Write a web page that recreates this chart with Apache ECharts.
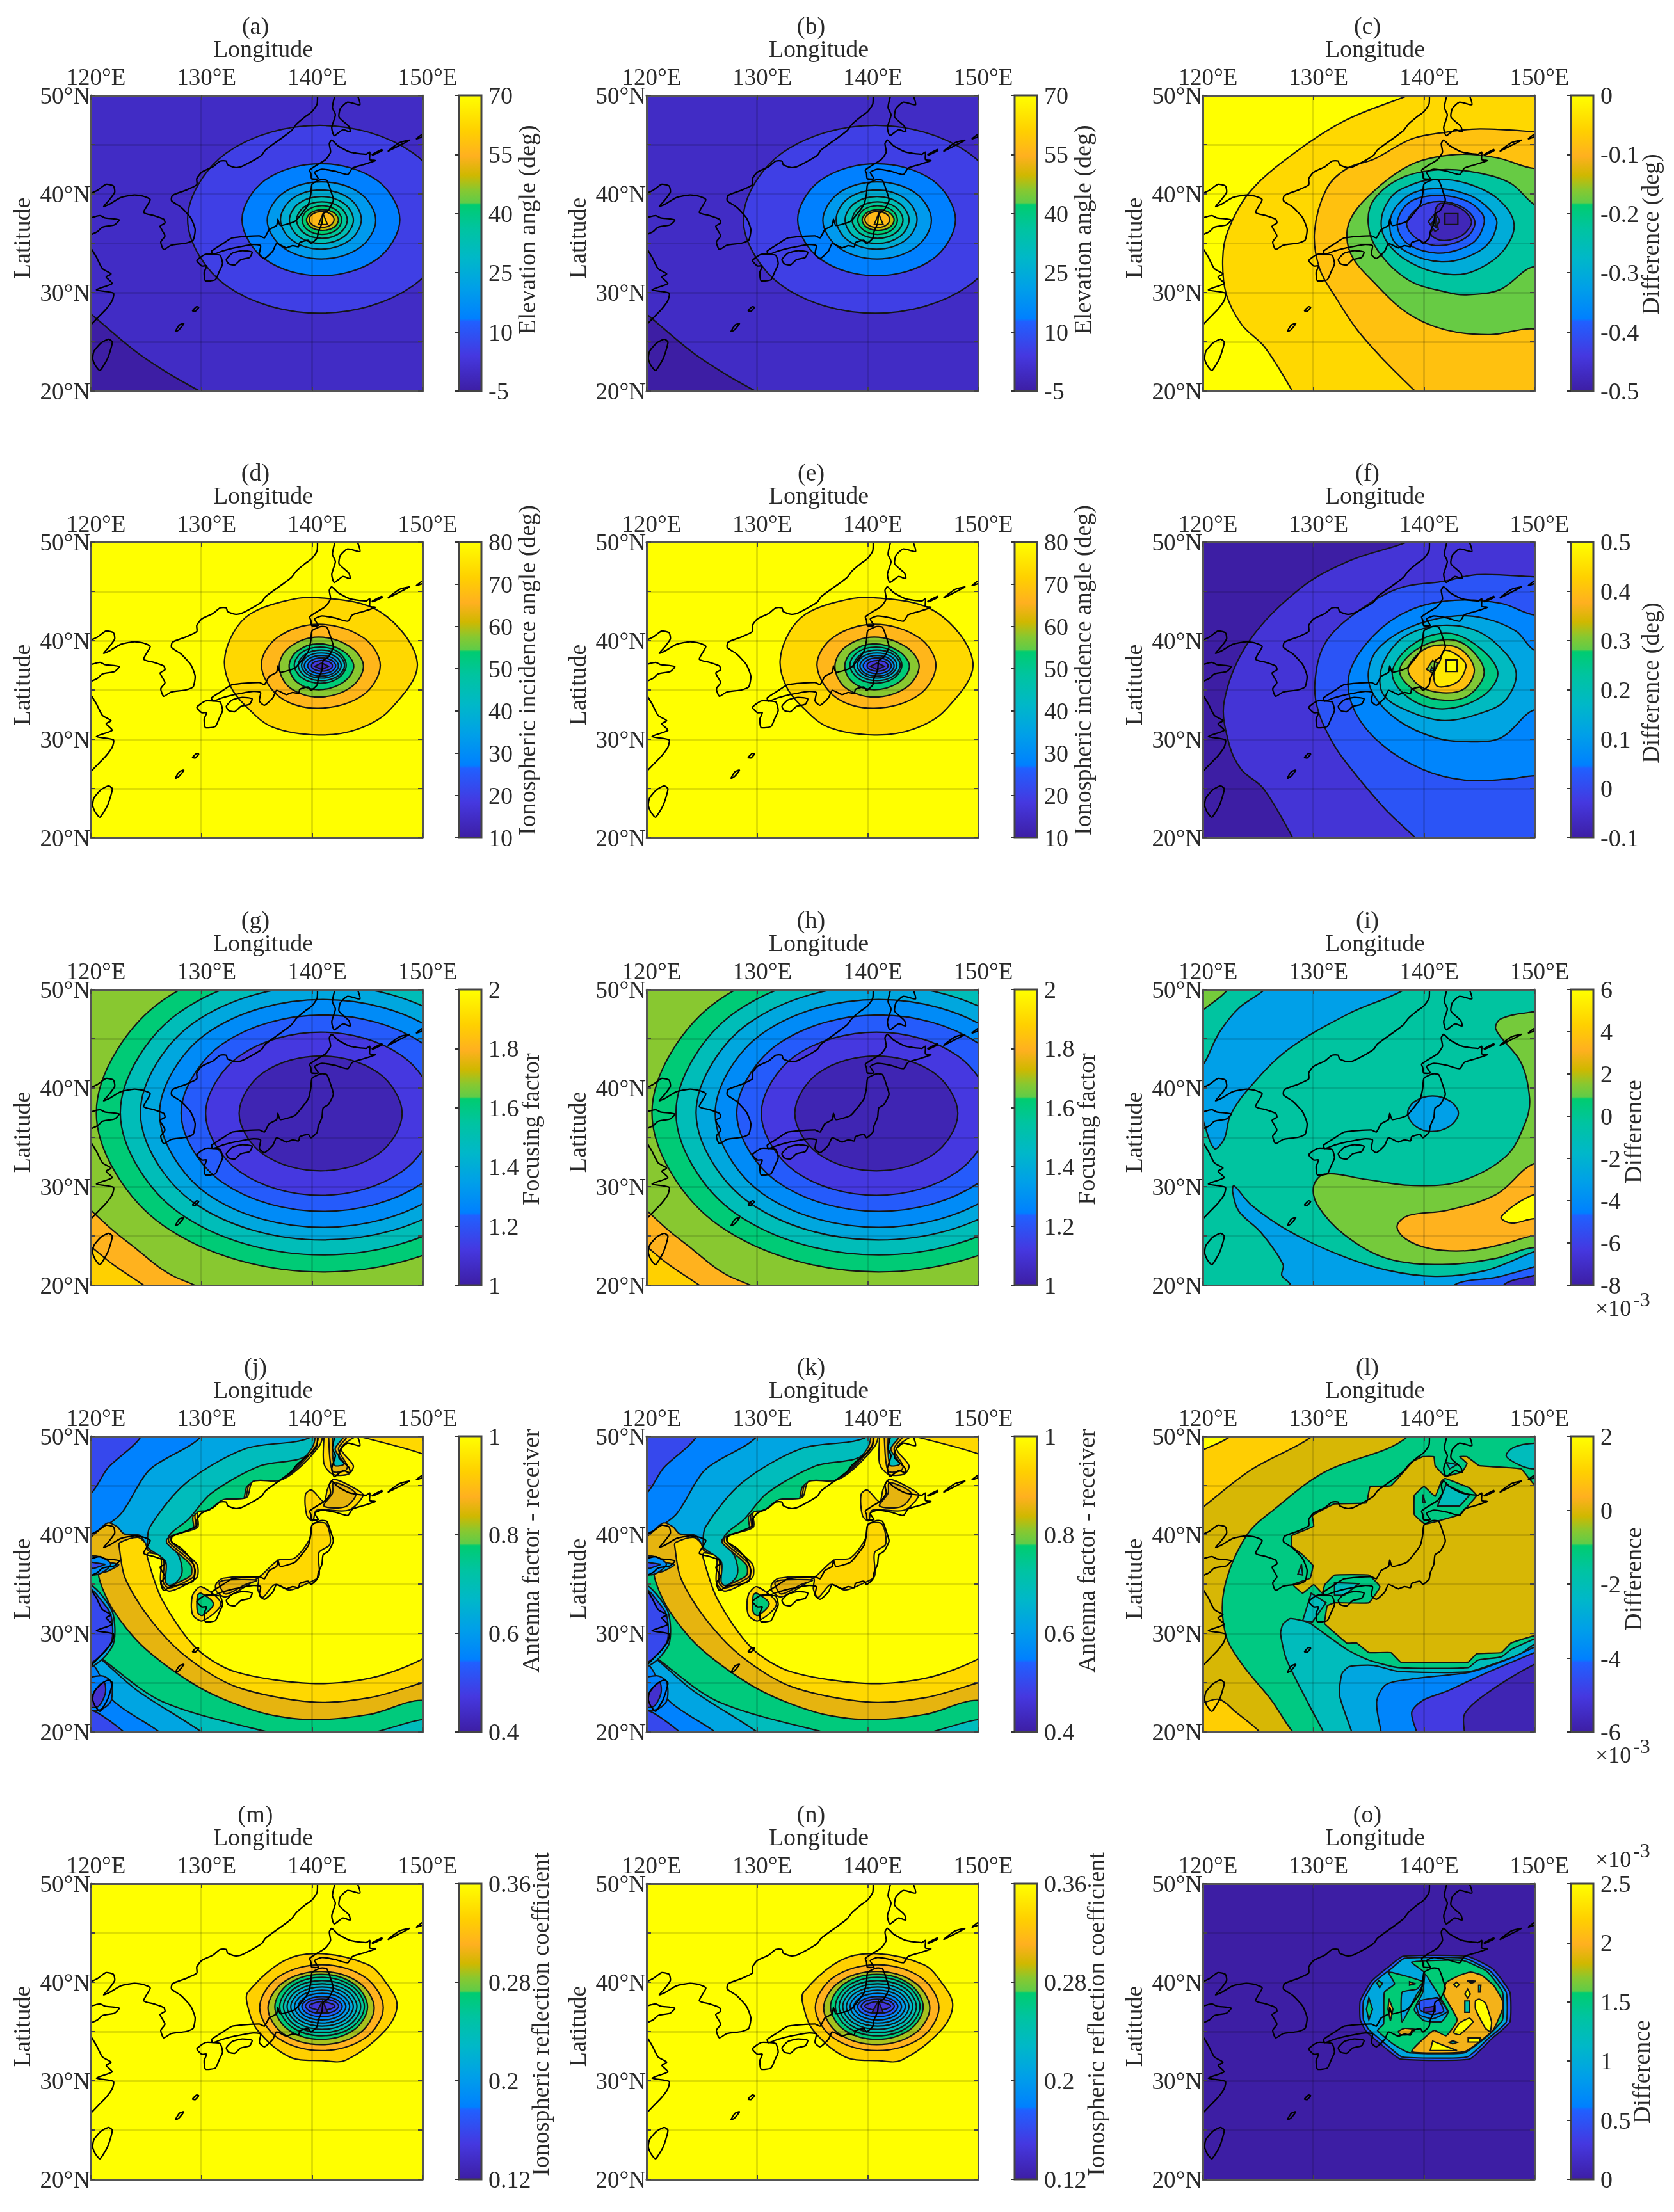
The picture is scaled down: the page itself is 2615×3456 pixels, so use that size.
<!DOCTYPE html>
<html>
<head>
<meta charset="utf-8">
<title>Ionospheric reflection maps</title>
<script src="https://cdn.jsdelivr.net/npm/echarts@6/dist/echarts.min.js"></script>
<style>html,body{margin:0;background:#fff}#chart{width:2615px;height:3456px;filter:blur(0.6px)}</style>
</head>
<body>
<div id="chart"></div>
<script>
// colour bar ticks
var elevationTicks = [-5, 10, 25, 40, 55, 70];
var elevationDiffTicks = [-0.5, -0.4, -0.3, -0.2, -0.1, 0];
var incidenceTicks = [10, 20, 30, 40, 50, 60, 70, 80];
var incidenceDiffTicks = [-0.1, 0, 0.1, 0.2, 0.3, 0.4, 0.5];
var focusingTicks = [1, 1.2, 1.4, 1.6, 1.8, 2];
var focusingDiffTicks = [-8, -6, -4, -2, 0, 2, 4, 6];
var antennaTicks = [0.4, 0.6, 0.8, 1];
var antennaDiffTicks = [-6, -4, -2, 0, 2];
var reflectionTicks = [0.12, 0.2, 0.28, 0.36];
var reflectionDiffTicks = [0, 0.5, 1, 1.5, 2, 2.5];

// coastlines, lon/lat
var continentCoast = [[140.5,50],[140.46,49.1],[140,48.34],[139.35,47.8],[138.57,47.05],[138.13,46.4],[137.24,45.65],[135.8,44.47],[135.46,43.93],[134.8,43.46],[133.58,42.75],[133.02,42.68],[132.36,42.96],[132.25,43.33],[131.69,43.33],[131.03,42.75],[130.03,42.21],[129.58,41.56],[129.58,40.92],[128.59,40.38],[127.37,39.84],[127.3,39.3],[128.14,38.66],[129.03,37.58],[129.43,36.4],[129.25,35.32],[128.59,35],[127.26,34.79],[126.59,34.36],[126.32,35.11],[126.7,35.75],[126.26,36.72],[126.7,37.05],[126.59,37.43],[125.7,37.8],[124.77,38.12],[125.37,39.41],[124.81,39.74],[123.93,39.89],[122.71,39.63],[121.71,38.98],[121.15,38.72],[121.6,39.3],[122.15,40.17],[122.04,40.81],[121.38,40.98],[120.6,40.38],[120,40.06]];
var shandongCoast = [[120,37.58],[120.82,37.8],[121.26,37.58],[122.55,37.37],[122.15,36.87],[121.04,36.62],[120.6,36.18],[120,35.86]];
var chinaCoast = [[120,34.5],[120.49,33.6],[121.04,32.42],[121.82,31.88],[121.38,31.56],[121.93,30.91],[120.49,30.27],[122.04,29.94],[121.93,29.19],[121.38,28.33],[120.82,27.68],[120,26.72]];
var sakhalinCoast = [[142.08,50],[141.85,48.77],[142.12,48.02],[141.79,46.73],[142.01,45.91],[142.79,46.51],[143.45,46.3],[143.34,46.84],[142.45,47.8],[142.57,48.67],[143.23,49.31],[144.34,49.05],[144.12,50]];
var taiwanCoast = [[121.6,25.27],[121.93,24.99],[121.82,24.35],[121.49,23.27],[120.82,22.09],[120.38,22.63],[120.16,23.27],[120.27,24.03],[120.93,24.89]];
var hokkaidoCoast = [[141.79,45.47],[141.57,45.1],[141.68,44.24],[141.23,43.48],[140.46,42.94],[139.79,42.41],[139.9,42.08],[139.97,41.54],[140.57,41.54],[140.24,42.19],[140.9,42.51],[142.12,42.3],[143.23,41.97],[143.67,42.62],[144.56,42.94],[145.72,43.38],[145.23,43.48],[145.23,44.24],[144.89,44.02],[143.45,44.24],[142.34,44.89]];
var honshuCoast = [[140.01,41],[140.79,41.43],[141.34,41.37],[141.79,40.03],[141.94,39.38],[141.79,38.95],[141.46,38.31],[141.01,37.98],[140.9,37.01],[140.57,36.15],[140.46,35.5],[139.9,34.96],[139.68,35.29],[138.9,35.07],[138.79,34.64],[138.24,34.75],[137.68,34.53],[136.8,34.96],[136.46,34.21],[135.69,33.45],[135.24,33.88],[135.35,34.75],[134.58,34.85],[133.02,34.53],[131.91,34.21],[131.03,33.88],[130.92,34.2],[131.91,34.93],[132.8,35.54],[135.24,35.76],[135.69,35.54],[136.13,36.37],[136.8,36.8],[136.91,37.44],[137.13,36.8],[138.46,37.23],[139.13,38.09],[139.68,38.95],[139.9,40.03]];
var kyushuCoast = [[129.59,33.24],[130.36,33.88],[131.03,33.88],[131.69,33.78],[131.91,32.91],[131.58,32.05],[131.25,31.29],[130.36,31.19],[130.25,32.05],[130.47,32.7],[130.03,32.7]];
var shikokuCoast = [[132.25,33.34],[132.8,33.99],[133.69,34.25],[134.58,34.1],[134.36,33.56],[133.58,33.34],[133.02,32.8],[132.47,32.91]];
var amamiCoast = [[129.2,28.15],[129.55,28.55],[129.75,28.5],[129.45,28.1]];
var okinawaCoast = [[127.65,26.05],[128,26.7],[128.4,26.85],[127.95,26.2]];
var kurilA = [[145.45,44],[146.3,44.5],[146.35,44.4],[145.5,43.95]];
var kurilB = [[146.9,44.35],[147.9,45.2],[148.8,45.45],[147.8,44.85]];
var kurilC = [[149.45,45.6],[150,46.05],[150,45.8]];
var openCoasts = [continentCoast, shandongCoast, chinaCoast, sakhalinCoast];
var closedCoasts = [taiwanCoast, hokkaidoCoast, honshuCoast, kyushuCoast, shikokuCoast, amamiCoast, okinawaCoast, kurilA, kurilB, kurilC];

// filled contours: [level, outline, optional curve tension], outermost first
var elevationBase = -5;
var elevationBands = [
  [0, [[117,30.5],[120.07,27.75],[124.13,23.95],[127.06,21.77],[129.83,20],[133,18],[160,18],[160,60],[117,60]]],
  [5.5, [[140.7,46.95],[149.15,44.15],[152.65,37.42],[149.15,30.69],[140.7,27.9],[132.25,30.69],[128.75,37.42],[132.25,44.15]]],
  [13.4, [[140.8,43.06],[145.86,41.4],[147.95,37.38],[145.86,33.36],[140.8,31.7],[135.76,33.36],[133.67,37.38],[135.76,41.4]]],
  [19.7, [[140.86,41.23],[144.33,40.09],[145.77,37.32],[144.33,34.55],[140.86,33.4],[137.39,34.55],[135.95,37.32],[137.39,40.09]]],
  [25.7, [[140.81,40.4],[143.4,39.52],[144.47,37.4],[143.4,35.28],[140.81,34.4],[138.22,35.28],[137.15,37.4],[138.22,39.52]]],
  [32.5, [[140.85,39.73],[142.9,39.03],[143.75,37.35],[142.9,35.67],[140.85,34.97],[138.8,35.67],[137.96,37.35],[138.8,39.03]]],
  [37, [[140.9,39.2],[142.53,38.66],[143.2,37.35],[142.53,36.04],[140.9,35.5],[139.27,36.04],[138.6,37.35],[139.27,38.66]]],
  [42.2, [[140.9,38.8],[142.17,38.38],[142.7,37.35],[142.17,36.32],[140.9,35.9],[139.63,36.32],[139.1,37.35],[139.63,38.38]]],
  [49, [[140.95,38.4],[141.98,38.09],[142.4,37.35],[141.98,36.61],[140.95,36.3],[139.92,36.61],[139.5,37.35],[139.92,38.09]]],
  [56.5, [[140.88,38.2],[141.68,37.97],[142,37.4],[141.68,36.83],[140.88,36.6],[140.08,36.83],[139.75,37.4],[140.08,37.97]]],
  [64, [[141,38],[141.4,36.9],[140.6,36.9]]]
];
var elevationDiffBase = 0;
var elevationDiffBands = [
  [-0.05, [[142,51.5],[138.6,50],[132.7,47.35],[127.5,43.5],[124.1,40],[122.25,36.2],[121.8,33.45],[122.1,29.9],[123.5,26.76],[125.6,24.45],[128.1,20],[129,18],[160,18],[160,60],[142,60]]],
  [-0.08, [[152,46],[150,46.3],[145.07,46.6],[142,46.26],[138.9,45.58],[135.5,43.54],[133.04,42.58],[131.2,40.54],[130.1,36.17],[130.58,32.36],[132.1,29.36],[133.97,26.2],[136.43,23.08],[139.2,20],[141,18],[160,18],[160,46]]],
  [-0.178, [[150,42.58],[146.6,43.67],[142.9,44],[138.9,43],[135.2,40],[133.2,37],[133.35,34],[135.5,31],[138.6,27.85],[142,26.2],[146,25.73],[150,26.3],[153,25],[160,25],[160,43],[153,43]]],
  [-0.225, [[150,38.9],[147.84,41.08],[144.76,42.17],[141.37,42.45],[137.98,41.63],[135.5,39.45],[134.96,37],[135.82,34.26],[138.6,31.26],[142,30.04],[143.84,29.77],[146.9,30.3],[150,32.63],[152,31],[160,31],[160,39],[152,38]]],
  [-0.3, [[141.06,41.49],[143.84,41.08],[146.6,39.58],[148.15,37],[147.2,34.26],[144.9,32.36],[142.6,31.81],[139.5,32.63],[137.05,34.54],[136.13,37],[137.05,39.7],[138.9,40.95]]],
  [-0.36, [[141.06,40.54],[144.15,39.85],[146,38.36],[146.6,37],[145.7,34.8],[143.53,33.45],[141.4,33.12],[138.9,33.86],[137.2,35.36],[137.05,37.8],[138.6,39.85]]],
  [-0.385, [[141.4,39.85],[143.84,39.3],[145.2,38.1],[145.44,37],[144.6,35.2],[142.9,34.26],[141.06,34],[138.9,34.67],[137.82,35.9],[137.67,37.54],[138.9,39.3]]],
  [-0.43, [[141.4,39.23],[143.53,38.63],[144.6,37.26],[144.14,35.9],[142.6,34.95],[140.75,34.8],[139.2,35.6],[138.44,37],[139.5,38.63]]],
  [-0.48, [[141.5,39.04],[143.37,38.5],[144.3,37.26],[143.84,36.17],[142.9,35.5],[141.5,35.3],[140.6,36],[141.4,37.2],[141,38.2]]],
  [-0.5, [[141.9,38],[143.07,38],[143.07,36.9],[141.9,36.9]]],
  [-0.42, [[140.4,37.2],[141,38],[141.3,36.4],[141,36.2]]],
  [-0.3, [[140.7,37],[141,37.5],[141.1,36.6]]]
];
var incidenceBase = 80;
var incidenceBands = [
  [73, [[140.4,44.38],[146.18,42.92],[149.53,37.73],[147.05,32.98],[144.18,31.04],[140.6,30.43],[136.4,31.25],[133.97,33.41],[132.64,35.36],[132.08,37.95],[132.87,40.76],[134.4,42.7],[137.08,43.89]]],
  [66.7, [[140.6,41.66],[144.63,40.32],[146.18,37.5],[144.63,34.49],[140.6,33.15],[137.08,34.28],[135.42,37.5],[136.86,40.32]]],
  [57.6, [[140.6,40.37],[143.5,39.35],[144.66,37.41],[143.5,35.25],[140.6,34.28],[137.97,35.25],[137.04,37.41],[137.97,39.35]]],
  [53.4, [[140.6,39.68],[142.85,38.92],[143.78,37.41],[142.85,35.79],[140.6,35.03],[138.64,35.79],[137.93,37.41],[138.64,38.92]]],
  [47.8, [[140.75,39.35],[142.41,38.82],[143.1,37.52],[142.41,36.22],[140.75,35.68],[139.09,36.22],[138.4,37.52],[139.09,38.82]]],
  [40.8, [[140.85,39.05],[142.33,38.6],[142.95,37.5],[142.33,36.4],[140.85,35.95],[139.37,36.4],[138.75,37.5],[139.37,38.6]]],
  [35.2, [[140.85,38.75],[142.12,38.4],[142.65,37.48],[142.12,36.58],[140.85,36.2],[139.58,36.58],[139.05,37.48],[139.58,38.4]]],
  [29.6, [[140.85,38.5],[141.95,38.19],[142.4,37.45],[141.95,36.71],[140.85,36.4],[139.75,36.71],[139.3,37.45],[139.75,38.19]]],
  [25.4, [[140.88,38.25],[141.78,38.02],[142.15,37.45],[141.78,36.88],[140.88,36.65],[139.98,36.88],[139.6,37.45],[139.98,38.02]]],
  [18.4, [[140.9,38],[141.57,37.84],[141.85,37.45],[141.57,37.06],[140.9,36.9],[140.23,37.06],[139.95,37.45],[140.23,37.84]]],
  [12.1, [[140.88,37.75],[141.5,37.4],[140.88,37.05],[140.25,37.4]]]
];
var incidenceDiffBase = -0.1;
var incidenceDiffBands = [
  [-0.04, [[142,52],[138.46,50],[133.25,48.1],[128.8,45.29],[124.15,39.89],[121.93,33.84],[122.37,29.52],[123.48,26.93],[125.48,24.99],[128.14,20],[129,18],[160,18],[160,52]]],
  [0.02, [[152,46.3],[149.9,46.48],[144.78,46.7],[141.9,46.05],[137.68,45.29],[133.69,42.7],[131.03,39.68],[130.14,35.79],[130.47,32.76],[131.92,29.31],[133.69,26.61],[136.57,22.83],[139.24,20],[141,18],[160,18],[160,46]]],
  [0.056, [[150,42.6],[147,43.78],[142.8,44.1],[138.8,43.13],[135.46,40.54],[133.25,36.65],[133.69,32.98],[136.13,29.52],[139.9,26.93],[143.67,25.85],[147.67,25.96],[150,26.29],[152,26],[160,26],[160,43],[152,43]]],
  [0.122, [[150,39.03],[148.33,40.97],[145.45,42.27],[142.56,42.48],[138.8,41.4],[135.9,39.24],[134.98,36.87],[135.46,34.49],[137.68,31.9],[141,30.17],[143.9,29.74],[147,30.17],[150,32.98],[152,32],[160,32],[160,39],[152,39]]],
  [0.182, [[141.68,41.56],[144.34,41.19],[146.56,39.68],[148.33,36.87],[147.45,34.06],[145.45,32.76],[141.9,31.9],[138.8,32.76],[136.35,34.49],[136.13,37.08],[137.46,39.68],[139.24,40.97]]],
  [0.26, [[141.9,40.76],[144.56,39.68],[146.67,36.87],[145.45,34.49],[141.9,33.09],[138.8,34.06],[137.13,36.65],[138.8,39.46]]],
  [0.302, [[141.9,40.11],[143.9,39.46],[145.45,36.87],[144.12,34.49],[141.9,33.95],[139.46,34.71],[137.8,36.87],[139.24,39.03]]],
  [0.404, [[141.68,39.57],[143.45,39.03],[144.56,37.08],[143.67,35.14],[141.68,34.71],[139.68,35.36],[138.57,37.08],[139.9,39.03]]],
  [0.464, [[141.9,39.03],[143.45,38.16],[143.8,37.3],[143,35.79],[141.23,35.36],[140.9,36.65],[141.46,37.95]]],
  [0.5, [[142.01,38.05],[143,38.05],[143,36.87],[142.01,36.87]]],
  [0.3, [[140.79,38],[140.24,37.08],[140.9,36.65],[141.23,37.73]]],
  [0.18, [[140.7,37.3],[140.6,36.95],[140.95,36.95]]]
];
var focusingBase = 1.68;
var focusingBands = [
  [1.8, [[118,29.6],[120,27.6],[122,25.55],[124.2,23.6],[126.1,21.88],[127.5,20.9],[129.4,20],[131,19],[118,15]]],
  [1.88, [[118,25.8],[120,23.93],[122,22.1],[124.77,20],[126,19],[118,15]]],
  [1.62, [[141,53.6],[155.5,48.9],[161.5,37.5],[155.5,26.1],[141,21.34],[126.5,26.1],[120.49,37.5],[126.5,48.9]]],
  [1.49, [[141,51.93],[153.97,47.7],[159.34,37.5],[153.97,27.3],[141,23.07],[128.03,27.3],[122.66,37.5],[128.03,47.7]]],
  [1.38, [[141,50.42],[152.68,46.64],[157.52,37.5],[152.68,28.36],[141,24.58],[129.32,28.36],[124.48,37.5],[129.32,46.64]]],
  [1.28, [[141,48.98],[151.46,45.59],[155.79,37.42],[151.46,29.25],[141,25.87],[130.54,29.25],[126.21,37.42],[130.54,45.59]]],
  [1.22, [[141,47.41],[150.08,44.49],[153.84,37.45],[150.08,30.41],[141,27.49],[131.92,30.41],[128.16,37.45],[131.92,44.49]]],
  [1.12, [[140.8,45.68],[148.17,43.25],[151.22,37.4],[148.17,31.55],[140.8,29.11],[133.43,31.55],[130.38,37.4],[133.43,43.25]]],
  [1.03, [[140.79,43.26],[146,41.55],[148.16,37.43],[146,33.31],[140.79,31.6],[135.57,33.31],[133.41,37.43],[135.57,41.55]]]
];
var focusingDiffBase = -0.3;
var focusingDiffBands = [
  [1.24, [[122.26,50],[120,47.9],[118,46],[118,52],[123,52]]],
  [-3.1, [[125.59,50],[123.26,48.12],[121.49,45.64],[120.38,43.05],[119,40],[120,36.8],[121.04,33.87],[121.93,34.84],[122.48,37.21],[124.04,39.8],[127.7,43.9],[133.25,47.58],[138.24,50],[140,52],[127,52]]],
  [-3.1, [[140.79,39.2],[142.45,38.62],[143.12,37.43],[142.34,36.13],[140.68,35.6],[139.24,36.13],[138.53,37.43],[139.13,38.62]]],
  [1.24, [[150,47.75],[147,47.04],[146.51,45.96],[148.78,42.6],[149.56,38.94],[149.2,36.57],[147.45,33.1],[143.23,30.52],[138.8,30.13],[134.8,30.73],[131.03,31.27],[130.03,30.09],[130.36,28.14],[132.8,25.12],[136.57,22.74],[141.68,22.1],[146.56,22.74],[150,23.82],[153,23],[153,48]]],
  [3.2, [[150,32.35],[146.56,29.22],[142.12,27.6],[138.57,27.06],[137.57,25.98],[138.35,24.69],[140.57,23.71],[143.9,23.5],[147.45,24.25],[150,25],[153,24.5],[153,32]]],
  [6, [[150,29.22],[147,26.95],[147.9,26.3],[150,26.74],[152,26.4],[152,29]]],
  [-3.1, [[122.82,30.09],[124.37,28.14],[127.7,25.55],[132.14,23.17],[136.57,21.55],[141,20.9],[145.45,21.45],[150,23.4],[153,24.5],[153,18],[128,18],[127.92,20.04],[127.14,21],[127.26,22.1],[125.26,25.34],[123.26,27.5],[122.7,29.44]]],
  [-4.8, [[142.8,20.05],[146.56,20.8],[150,21.88],[153,23],[153,18],[142,18]]],
  [-7.3, [[147.2,20],[150,21],[153,22],[153,18],[147,18]]]
];
var antennaBase = 0.5;
var antennaBands = [
  [0.55, [[124.55,50],[121.55,46.8],[120,44.2],[117,42],[117,24],[120.67,21.9],[123,20],[126,17],[160,17],[160,55],[126,55]]],
  [0.622, [[130,50],[125.3,46.6],[122.66,42.06],[120,40],[117,38],[117,27],[120,27],[122,23.2],[126.2,20],[128,18],[160,18],[160,55],[132,55]]],
  [0.688, [[139.7,49.8],[134,48.75],[128.65,45.3],[125.32,40.77],[125.1,38.83],[125,37],[123,35],[120,33],[118,30],[120.9,27.4],[124.2,24.2],[130,20],[132,18],[160,18],[160,52],[141,52]]],
  [0.766, [[141,50.5],[139.3,47.9],[135.3,47],[130.87,44.2],[128.87,41.63],[127,39.7],[128,37.75],[128.2,35.94],[127.1,34.65],[124,33],[122,34],[120.5,37],[118,37],[118,30],[120.9,27.5],[126.43,23.1],[136,20],[140.9,19.1],[145.74,20],[150,21.25],[160,22],[160,52],[142,52]]],
  [0.856, [[140.3,52],[140.3,50],[140,48.8],[138.2,46.4],[136.7,45.1],[134.2,45],[133.7,43.4],[131.6,43.2],[130.3,42.1],[129.25,41.9],[129.25,40.3],[126.9,39.6],[126.9,39.1],[129,37],[129.1,36],[128.7,35.6],[127.1,34.85],[126.75,35.25],[126.75,37.3],[125.2,38.65],[124.4,39.95],[123,40.1],[122.4,40.8],[121.5,41.2],[120,39.8],[118,39],[118,37.2],[120,37.3],[122.5,37],[121.5,36.3],[120.67,36],[122,32.4],[124.88,28.48],[130,24.4],[135.3,22],[140,21.25],[145.3,21.8],[150,23.2],[160,21],[160,55],[142,55]]],
  [0.94, [[140.6,51],[140.6,50],[140.3,48.9],[138.4,46.5],[136.9,45.3],[134.4,45.2],[133.9,43.6],[131.8,43.4],[130.5,42.3],[129.45,42.1],[129.45,40.55],[127.1,39.75],[127.1,39.2],[129.25,37.05],[129.35,35.9],[128.9,35.45],[127.1,34.6],[126.55,35.2],[126.55,37.5],[125.2,38.4],[124.9,39.2],[124.2,39.75],[122.6,39.2],[122.55,38.83],[123.1,35.6],[125.32,31.5],[128.65,27.6],[133.1,24.6],[140,23.04],[145.3,23.5],[150,25],[156,27],[156,55],[142,55]]],
  [1, [[140.97,51],[140.97,50],[140.63,48.96],[138.64,46.59],[137.08,45.51],[134.64,45.41],[134.09,43.79],[131.98,43.57],[130.65,42.5],[129.65,42.28],[129.65,40.77],[127.32,39.91],[127.32,39.26],[129.54,37.1],[129.65,35.81],[129.1,35.27],[127.1,34.3],[126.32,35.16],[126.32,37.75],[125.21,38.18],[125.1,37.75],[126.43,33.44],[129.54,28.48],[133.09,26.1],[139.97,24.92],[145.29,25.46],[150,27.4],[153,30],[153,46.4],[150,48.21],[144.18,50],[143.96,50],[142.63,48.75],[143.74,47.02],[143.3,46.16],[141.85,46.16],[141.08,47.24],[141.08,50],[141.08,51]]],
  [0.856, [[141.5,51],[141.5,50],[141.85,46.5],[143,46.5],[143.2,47],[142.4,48.7],[143.2,50],[143.2,51]]],
  [0.688, [[142,51],[142,47.1],[142.9,47.2],[142.1,48.7],[142.9,50],[142.9,51]]],
  [0.94, [[141.97,45.62],[143.96,44.65],[144.63,44],[143.3,42.5],[140.41,42.5],[140.08,41.42],[139.53,41.96],[139.41,44.11],[139.97,44.54],[141.08,43.36],[141.41,44.65]]],
  [0.856, [[141.97,45.3],[143.96,44.22],[143.07,42.88],[141.08,42.93],[141.85,44.22]]],
  [0.94, [[140.2,41.2],[141.3,41.1],[141.63,39.05],[140.63,38.2],[140.63,35.8],[139.75,35.16],[137.97,34.4],[136.64,34.95],[135.53,33.65],[135.09,34.5],[135.09,35.6],[131.98,35.6],[131.3,34.95],[131.4,34.2],[132.2,33.7],[133.97,34.75],[135.31,35.8],[136.97,37.43],[138.42,37.64],[139.75,39.48],[139.97,40.88]]],
  [0.856, [[131.6,35.1],[132.1,35.4],[135,35.4],[133.97,34.95],[132.2,34]]],
  [0.94, [[129.98,34.73],[131.76,33],[130.1,31.28],[129.2,31.93],[129.2,33.87]]],
  [0.766, [[129.98,34.08],[131.09,33],[130.1,31.82],[129.65,32.14],[129.65,33.87]]],
  [0.57, [[119,37.75],[120.9,37.75],[121.8,37],[120.67,36],[119,36.13]]],
  [0.5, [[119,37.4],[121.3,37],[120.3,36.6],[119,36.6]]],
  [0.622, [[119,34.9],[120,34.9],[121.1,33.7],[122,32],[122.1,29.2],[121.3,27.7],[120,26.6],[119,26.6]]],
  [0.5, [[119,34.5],[120,34.5],[120.9,33.4],[121.8,31.9],[121.9,29.3],[121.1,28],[120,27],[119,27]]],
  [0.55, [[119,25],[120.9,25.7],[121.8,25.1],[121.8,23.1],[120.67,22.2],[119,22.6]]],
  [0.45, [[119.8,22.6],[120.44,24.3],[121.2,25],[121.3,23.9],[120.67,22.6]]]
];
var antennaDiffBase = -0.08;
var antennaDiffBands = [
  [1, [[129.9,50],[124.37,46.6],[120,42.8],[118,41],[118,52],[131,52]], 0.35],
  [2, [[122.5,50],[120,48.6],[118,47.4],[118,52],[124,52]], 0.35],
  [1, [[118,22.9],[120,22.98],[121.5,23.3],[123,22],[125.15,20],[126,18.5],[118,18.5]], 0.35],
  [-1.2, [[138.57,50],[131.03,46.38],[126.59,42.71],[123.93,39.9],[121.93,34.52],[122.04,29.99],[123.48,26.97],[126.15,23.3],[128.14,20],[130,18],[160,18],[160,55],[140,55]], 0.35],
  [-0.08, [[135.13,44.87],[137.02,44.98],[139.01,47.46],[139.9,47.93],[140.9,47.93],[141.01,47.02],[141.9,45.95],[143.45,46.38],[143.9,47.24],[143.23,47.93],[143.9,47.93],[145,47.02],[148.78,46.7],[150,45.08],[153,45],[153,29.5],[150,29.77],[147.89,29.02],[147,28.05],[144.78,27.94],[144,27.08],[137.9,27.08],[137.02,28.05],[135.02,28.05],[133.91,29.02],[133.02,29.02],[131.03,30.96],[131.03,31.28],[131.25,32.79],[131.91,33.11],[135.02,33.11],[136.02,34.73],[135.02,35.92],[131.91,35.92],[131.03,34.95],[130.8,34.08],[130.03,34.95],[129.03,34.08],[128.14,34.95],[129.7,35.6],[129.96,36.89],[129.03,37.97],[128.03,38.83],[128.03,39.91],[130.03,40.88],[129.92,41.96],[131.91,43.14],[134.8,43.25]], 0.08],
  [-1.2, [[141.9,45.73],[144.12,44.76],[144.78,44],[143.23,42.06],[140.12,41.09],[139.13,42.06],[139.13,44],[140.01,44.91],[141.01,43.9],[141.57,45.4]], 0.08],
  [-2.16, [[142,45.08],[144.12,44],[143.23,42.93],[141.23,42.93]]],
  [-2.16, [[139.9,44.1],[140.1,43.3],[139.9,43.3]]],
  [-2.16, [[142,47.35],[143,47.13],[142.34,46.7]]],
  [-2.16, [[129.8,34.08],[131.14,33.11],[129.92,31.17],[129.03,31.28]]],
  [-2.16, [[128.92,37],[128.6,36.03],[129.03,35.92]]],
  [-2.16, [[131.91,35.16],[134.13,35.05],[132.8,33.87],[131.91,33.87]]],
  [-2.16, [[150,49.3],[148.1,48.86],[147.45,48],[148.78,47.02],[150,46.7],[152,47],[152,49]], 0.3],
  [-2.16, [[127.92,31.5],[129.03,31.28],[129.7,31.02],[133.02,28.37],[135.02,27.29],[137.68,26.54],[144,26.54],[144.9,27.29],[147,27.62],[147.89,28.37],[150,29.45],[153,31],[153,18],[132,18],[130.92,20],[128.36,25.46],[127.48,27.62],[127.03,29.99],[127.26,30.96]]],
  [-3, [[133.47,20],[132.36,23.73],[132.58,25.89],[133.25,26.64],[135.46,26.75],[137.68,26.15],[144,26.1],[147,27.18],[148.78,27.94],[150,28.9],[153,30],[153,18],[134,18]]],
  [-3.9, [[136.13,20],[135.73,23.1],[136.57,24.8],[138.79,25.35],[142.12,25.78],[144.34,26.1],[147.67,27.4],[150,28.6],[153,30],[153,18],[136.5,18]], 0.3],
  [-5, [[139.35,20],[138.9,22],[139.9,23.2],[142.12,24.16],[145.45,25.9],[150,28.05],[153,29.5],[153,18],[140,18]], 0.3],
  [-5.76, [[143.67,20],[143.67,21.8],[145.45,23.73],[150,26.86],[153,28],[153,18],[144,18]], 0.3]
];
var reflectionBase = 0.36;
var reflectionBands = [
  [0.331, [[140.86,42.9],[145.07,41.78],[146.63,40.06],[147.7,37.69],[146.63,35.11],[143.07,32.1],[140.86,32.05],[137.97,32.42],[135.09,35.11],[134.16,37.69],[134.2,38.98],[137.53,42.21]]],
  [0.312, [[140.86,41.78],[144.81,40.5],[146.45,37.42],[144.81,34.34],[140.86,33.06],[136.91,34.34],[135.27,37.42],[136.91,40.5]]],
  [0.288, [[140.82,41.09],[144.22,40],[145.63,37.38],[144.22,34.76],[140.82,33.67],[137.42,34.76],[136.02,37.38],[137.42,40]]],
  [0.269, [[140.83,40.81],[143.8,39.83],[145.03,37.5],[143.8,35.17],[140.83,34.2],[137.87,35.17],[136.64,37.5],[137.87,39.83]]],
  [0.254, [[140.91,40.49],[143.62,39.62],[144.74,37.53],[143.62,35.44],[140.91,34.57],[138.2,35.44],[137.08,37.53],[138.2,39.62]]],
  [0.24, [[140.91,40.17],[143.38,39.4],[144.41,37.53],[143.38,35.66],[140.91,34.89],[138.44,35.66],[137.42,37.53],[138.44,39.4]]],
  [0.226, [[140.91,39.84],[143.14,39.16],[144.07,37.53],[143.14,35.9],[140.91,35.22],[138.68,35.9],[137.75,37.53],[138.68,39.16]]],
  [0.211, [[140.91,39.52],[142.91,38.94],[143.74,37.53],[142.91,36.12],[140.91,35.54],[138.91,36.12],[138.08,37.53],[138.91,38.94]]],
  [0.199, [[140.91,39.2],[142.68,38.71],[143.41,37.53],[142.68,36.35],[140.91,35.86],[139.14,36.35],[138.42,37.53],[139.14,38.71]]],
  [0.187, [[140.91,38.87],[142.44,38.48],[143.07,37.53],[142.44,36.58],[140.91,36.18],[139.38,36.58],[138.75,37.53],[139.38,38.48]]],
  [0.175, [[140.91,38.55],[142.2,38.25],[142.74,37.53],[142.2,36.81],[140.91,36.51],[139.62,36.81],[139.08,37.53],[139.62,38.25]]],
  [0.161, [[140.91,38.29],[141.97,38.08],[142.41,37.56],[141.97,37.04],[140.91,36.83],[139.85,37.04],[139.41,37.56],[139.85,38.08]]],
  [0.146, [[140.91,38.05],[141.7,37.85],[142.08,37.58],[141.7,37.3],[140.91,37.15],[140.1,37.3],[139.75,37.58],[140.1,37.85]]],
  [0.125, [[140.97,38.12],[141.41,36.94],[140.41,36.94]]]
];
var reflectionDiffBase = 0;
var reflectionDiffBands = [
  [0.55, [[138.13,42.64],[143.9,42.64],[146.23,41.35],[147.78,38.98],[147.78,35.97],[146.12,34.25],[144.12,32.2],[137.9,32.2],[136.57,33.28],[134.8,35],[134.24,36.18],[134.24,38.12],[135.24,40.06],[136.8,41.56]]],
  [0.95, [[138.24,42.43],[143.68,42.43],[146,41.13],[147.45,38.98],[147.45,35.97],[145.89,34.36],[143.9,32.42],[138.02,32.42],[136.8,33.49],[135.02,35.2],[134.53,36.18],[134.53,38.12],[135.46,39.95],[137.02,41.35]]],
  [1.55, [[138.9,42.04],[143.45,42.21],[145.67,41.13],[147.11,38.98],[147.11,36.18],[145.89,34.68],[143.67,32.85],[138.68,32.85],[137.24,33.71],[135.8,35.11],[136.35,35.75],[136.42,38.98],[137.35,39.84],[136.8,41.03],[139.9,40.06],[139.35,39.3],[138.02,38.98],[138.02,35.97],[139.35,38.77],[140.01,39.84],[140.01,41.03]]],
  [0.95, [[140.12,40.81],[140.9,39.5],[141.5,38.4],[142.2,37],[141.6,36],[140,36.1],[139.13,37.2],[139.9,38.98]]],
  [1.95, [[144.23,41.03],[145.23,40.7],[146.34,39.63],[147.11,38.12],[147.11,37.26],[146.23,35.11],[143.67,32.96],[138.9,32.96],[140.9,35.11],[142.01,34.57],[143.01,36.18],[141.79,38.77],[142.01,39.95],[143.23,40.7]]],
  [2.5, [[145,38.29],[145.56,37.9],[146.12,35.97],[146,35],[145.56,35.33],[144.67,37.26],[144.67,38.12]]],
  [2.5, [[144.12,36.36],[144.45,35.97],[143.23,34.68],[142.67,34.89],[143.23,35.86]]],
  [2.5, [[140.79,34.03],[143,33.06],[140.57,33.06]]],
  [2.5, [[144,34.36],[145.1,34.36],[145,33.93],[144,33.93]]],
  [2.5, [[143.96,39.3],[144.2,38.8],[143.96,38.4],[143.7,38.8]]],
  [2.5, [[142.95,40],[143.2,39.75],[142.95,39.5],[142.7,39.75]]],
  [1.3, [[143.7,38.1],[144.1,38.1],[144.1,36.95],[143.7,36.95]]],
  [1.3, [[144.95,39.7],[145.15,39.7],[145.1,39],[144.95,39]]],
  [1.3, [[142.6,34.05],[143,33.9],[142.6,33.75],[142.3,33.9]]],
  [1.3, [[143.9,40.15],[144.7,40.1],[144.3,39.9]]],
  [0.7, [[139.35,37.69],[141.23,38.44],[142.12,37.05],[140.79,36.29],[139.57,36.72]]],
  [0.5, [[139.68,38.12],[141.23,38.38],[141.79,37.05],[140.79,36.72],[139.68,37.15]]],
  [0.1, [[140,37.37],[141.01,37.58],[141.01,37.05],[140,36.94]]],
  [1.95, [[137.68,35],[138.24,35.32],[139.24,35.2],[138.57,34.68],[137.9,34.68]]],
  [1.95, [[136.84,38.34],[137.2,37.26],[136.97,36.08],[136.75,37.26]]],
  [1.95, [[138.7,40.05],[139.2,39.85],[138.7,39.7]]],
  [1.55, [[135.02,38.44],[135.35,37.26],[135.02,36.18],[134.8,37.26]]],
  [1.55, [[135.9,40.15],[136.25,39.9],[136,39.45],[135.75,39.9]]]
];

// colour bar (position along the bar, colour)
var rampStops = [[0,'#3d1ea4'],[0.12,'#4538e0'],[0.235,'#2060ff'],[0.245,'#0080ff'],[0.35,'#00a0e8'],[0.45,'#00b8c8'],[0.55,'#00c4a0'],[0.63,'#00cc70'],[0.637,'#60cc48'],[0.68,'#88c830'],[0.73,'#d0b800'],[0.795,'#ffb020'],[0.88,'#ffd000'],[1,'#ffff00']];

var FONT = '"Liberation Serif"';
var INK = '#2a2a2a';
var colLeft = [142, 1010, 1879];
var rowTop = [149, 847, 1546, 2244, 2943];
var PLOT_W = 518, PLOT_H = 462, BAR_GAP = 575, BAR_W = 35;

function rampColor(f) {
  f = Math.max(0, Math.min(1, f));
  for (var i = 1; i < rampStops.length; i++) {
    if (f <= rampStops[i][0]) {
      var a = rampStops[i - 1], b = rampStops[i];
      return echarts.color.lerp((f - a[0]) / (b[0] - a[0]), [a[1], b[1]]);
    }
  }
  return rampStops[rampStops.length - 1][1];
}

// rows of the figure: left column, middle column (same field), right column (difference)
var rows = [
  { left: { bands: elevationBands, base: elevationBase, ticks: elevationTicks, name: 'Elevation angle (deg)', nx: 681, ny: 210 },
    diff: { bands: elevationDiffBands, base: elevationDiffBase, ticks: elevationDiffTicks, name: 'Difference (deg)', nx: 699, ny: 217 } },
  { left: { bands: incidenceBands, base: incidenceBase, ticks: incidenceTicks, name: 'Ionospheric incidence angle (deg)', nx: 681, ny: 200 },
    diff: { bands: incidenceDiffBands, base: incidenceDiffBase, ticks: incidenceDiffTicks, name: 'Difference (deg)', nx: 699, ny: 220 } },
  { left: { bands: focusingBands, base: focusingBase, ticks: focusingTicks, name: 'Focusing factor', nx: 687, ny: 218 },
    diff: { bands: focusingDiffBands, base: focusingDiffBase, ticks: focusingDiffTicks, name: 'Difference', nx: 672, ny: 222, exp: 'below' } },
  { left: { bands: antennaBands, base: antennaBase, ticks: antennaTicks, name: 'Antenna factor - receiver', nx: 687, ny: 179, smooth: 0.3 },
    diff: { bands: antennaDiffBands, base: antennaDiffBase, ticks: antennaDiffTicks, name: 'Difference', nx: 672, ny: 223, smooth: 0.2, exp: 'below' } },
  { left: { bands: reflectionBands, base: reflectionBase, ticks: reflectionTicks, name: 'Ionospheric reflection coefficient', nx: 702, ny: 204 },
    diff: { bands: reflectionDiffBands, base: reflectionDiffBase, ticks: reflectionDiffTicks, name: 'Difference', nx: 685, ny: 294, smooth: 0.15, exp: 'above' } }
];

var grids = [], xAxes = [], yAxes = [], series = [], texts = [];

function addText(text, x, y, opts) {
  opts = opts || {};
  texts.push({
    type: 'text', x: x, y: y, rotation: opts.rotate ? Math.PI / 2 : 0, z: 20,
    style: { text: text, align: opts.align || 'center', verticalAlign: 'middle', fontFamily: FONT, fontSize: opts.size || 38, fill: INK }
  });
}

function addPanel(field, tag, col, row) {
  var left = colLeft[col], top = rowTop[row];
  var lo = field.ticks[0], hi = field.ticks[field.ticks.length - 1];
  var color = function (v) { return rampColor((v - lo) / (hi - lo)); };
  var smooth = field.smooth || 0.35;
  var gridIndex = grids.length;
  var frame = { lineStyle: { color: '#555', width: 3 } };
  var faint = { lineStyle: { color: 'rgba(0,0,0,0.13)', width: 3 } };
  var tick = { show: true, inside: true, length: 7, lineStyle: { color: '#444', width: 2 } };

  grids.push({ left: left, top: top, width: PLOT_W, height: PLOT_H, show: true, borderWidth: 0, backgroundColor: color(field.base) });
  var xi = xAxes.length, yi = yAxes.length;
  xAxes.push({
    gridIndex: gridIndex, type: 'value', position: 'top', min: 120, max: 150, interval: 10, z: 5,
    axisLine: Object.assign({ show: true, onZero: false }, frame), axisTick: tick,
    splitLine: Object.assign({ show: true }, faint),
    axisLabel: { show: true, margin: 15, lineHeight: 28, padding: [0, 0, 0, 16], color: INK, fontFamily: FONT, fontSize: 37, formatter: function (v) { return v + '°E'; } }
  }, {
    gridIndex: gridIndex, type: 'value', position: 'bottom', min: 120, max: 150, interval: 10, z: 5,
    axisLine: Object.assign({ show: true, onZero: false }, frame), axisTick: tick,
    splitLine: { show: false }, axisLabel: { show: false }
  });
  yAxes.push({
    gridIndex: gridIndex, type: 'value', position: 'left', min: 20, max: 50, interval: 10, z: 5,
    axisLine: Object.assign({ show: true, onZero: false }, frame), axisTick: tick,
    minorTick: { show: true, splitNumber: 2, length: 7, lineStyle: { color: '#444', width: 2 } },
    splitLine: Object.assign({ show: true }, faint),
    minorSplitLine: Object.assign({ show: true }, faint),
    axisLabel: { show: true, margin: 1, lineHeight: 28, color: INK, fontFamily: FONT, fontSize: 37, formatter: function (v) { return v + '°N'; } }
  }, {
    gridIndex: gridIndex, type: 'value', position: 'right', min: 20, max: 50, interval: 10, z: 5,
    axisLine: Object.assign({ show: true, onZero: false }, frame), axisTick: tick,
    minorTick: { show: true, splitNumber: 2, length: 7, lineStyle: { color: '#444', width: 2 } },
    splitLine: { show: false }, axisLabel: { show: false }
  });

  series.push({
    type: 'custom', xAxisIndex: xi, yAxisIndex: yi, coordinateSystem: 'cartesian2d', clip: true, z: 2, silent: true,
    data: field.bands.map(function (b, i) { return [i]; }),
    renderItem: function (params, api) {
      var band = field.bands[params.dataIndex];
      var tension = band[2] || (band[1].length > 4 ? smooth : 0);
      return {
        type: 'polygon',
        shape: { points: band[1].map(function (p) { return api.coord(p); }), smooth: tension },
        style: { fill: color(band[0]), stroke: '#151515', lineWidth: 2.2 }
      };
    }
  });
  var coastList = openCoasts.concat(closedCoasts);
  series.push({
    type: 'custom', xAxisIndex: xi, yAxisIndex: yi, coordinateSystem: 'cartesian2d', clip: true, z: 3, silent: true,
    data: coastList.map(function (c, i) { return [i]; }),
    renderItem: function (params, api) {
      var i = params.dataIndex, closed = i >= openCoasts.length;
      return {
        type: closed ? 'polygon' : 'polyline',
        shape: { points: coastList[i].map(function (p) { return api.coord(p); }), smooth: 0.2 },
        style: { fill: null, stroke: '#000', lineWidth: 2.3 }
      };
    }
  });

  // colour bar
  var barGrid = grids.length;
  grids.push({ left: left + BAR_GAP, top: top, width: BAR_W, height: PLOT_H });
  var bx = xAxes.length, by = yAxes.length;
  xAxes.push({ gridIndex: barGrid, type: 'value', min: 0, max: 1, show: false });
  yAxes.push({
    gridIndex: barGrid, type: 'value', position: 'right', min: lo, max: hi, z: 5,
    axisLine: { show: false }, splitLine: { show: false },
    axisTick: { show: true, inside: true, length: 6, customValues: field.ticks, lineStyle: { color: '#333', width: 2 } },
    axisLabel: { show: true, customValues: field.ticks, margin: 11, color: INK, fontFamily: FONT, fontSize: 38, showMinLabel: true, showMaxLabel: true, hideOverlap: false, formatter: function (v) { return String(v); } }
  });
  series.push({
    type: 'custom', xAxisIndex: bx, yAxisIndex: by, coordinateSystem: 'cartesian2d', z: 2, silent: true,
    data: [[0, lo, hi]],
    renderItem: function (params, api) {
      var a = api.coord([0, hi]), b = api.coord([1, lo]);
      return {
        type: 'rect',
        shape: { x: a[0], y: a[1], width: b[0] - a[0], height: b[1] - a[1] },
        style: {
          fill: new echarts.graphic.LinearGradient(0, 1, 0, 0, rampStops.map(function (s) { return { offset: s[0], color: s[1] }; })),
          stroke: '#444', lineWidth: 3
        }
      };
    }
  });

  addText(tag, left + 257, top - 109);
  addText('Longitude', left + 269, top - 73);
  addText('Latitude', left - 108, top + 223, { rotate: true });
  addText(field.name, left + field.nx, top + field.ny, { rotate: true });
  if (field.exp) {
    var below = field.exp === 'below';
    var ey = below ? top + PLOT_H + 36 : top - 38;
    addText('×10', left + 613, ey, { align: 'left', size: 36 });
    addText('-3', left + 672, ey - 14, { align: 'left', size: 32 });
  }
}

var tags = 'abcdefghijklmno'.split('');
rows.forEach(function (r, i) {
  addPanel(r.left, '(' + tags[i * 3] + ')', 0, i);
  addPanel(r.left, '(' + tags[i * 3 + 1] + ')', 1, i);
  addPanel(r.diff, '(' + tags[i * 3 + 2] + ')', 2, i);
});

var chart = echarts.init(document.getElementById('chart'), null, { renderer: 'svg' });
chart.setOption({
  animation: false,
  backgroundColor: '#fff',
  grid: grids,
  xAxis: xAxes,
  yAxis: yAxes,
  series: series,
  graphic: texts
});
</script>
</body>
</html>
